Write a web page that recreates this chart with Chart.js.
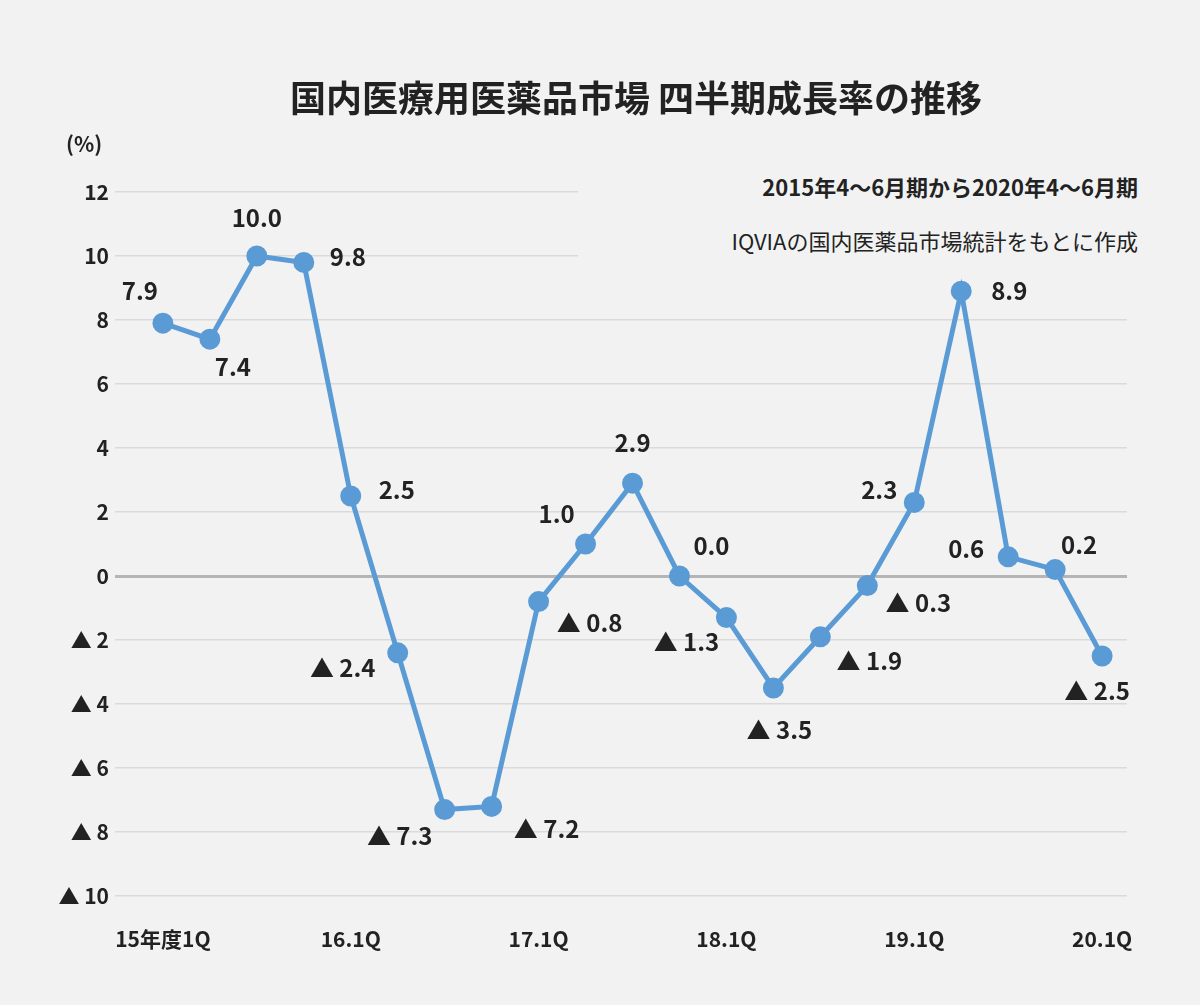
<!DOCTYPE html>
<html><head><meta charset="utf-8">
<script src="https://cdn.jsdelivr.net/npm/chart.js@4"></script>
<style>
body{margin:0;background:#f2f2f2;font-family:"Noto Sans CJK JP",sans-serif;color:#222}
#wrap{position:relative;width:1200px;height:1005px}
.t{position:absolute;white-space:nowrap}
</style></head><body>
<div id="wrap">
<canvas id="c" width="1200" height="1005"></canvas>
<div class="t" style="left:0;width:1272px;top:70px;text-align:center;font-size:36px;font-weight:bold">国内医療用医薬品市場 四半期成長率の推移</div>
<div class="t" style="left:66px;top:128px;font-size:21px;font-weight:bold">(%)</div>
<div class="t" style="left:578px;top:160px;width:572px;height:100px;background:#f2f2f2"></div>
<div class="t" style="right:62px;top:170px;font-size:22px;font-weight:bold">2015年4～6月期から2020年4～6月期</div>
<div class="t" style="right:62px;top:224px;font-size:22px">IQVIAの国内医薬品市場統計をもとに作成</div>
</div>
<script>
const growth = [7.9, 7.4, 10.0, 9.8, 2.5, -2.4, -7.3, -7.2, -0.8, 1.0, 2.9, 0.0, -1.3, -3.5, -1.9, -0.3, 2.3, 8.9, 0.6, 0.2, -2.5];
const xLabels = {0: '15年度1Q', 4: '16.1Q', 8: '17.1Q', 12: '18.1Q', 16: '19.1Q', 20: '20.1Q'};
// label offsets from each point (px)
const labelPos = [[-23,-32],[23,28],[0,-38],[44,-6],[46,-6],[-55,15],[-45,26],[55,22],[51,21],[-29,-30],[0,-40],[32,-30],[-40,24],[6,42],[49,24],[51,17],[-35,-13],[48,0],[-42,-8],[24,-25],[-5,35]];

const fmt = v => v < 0 ? '▲ ' + Math.abs(v).toFixed(1) : v.toFixed(1);
const font = 'bold 24px "Noto Sans CJK JP", sans-serif';

const labelPlugin = {
  id: 'vals',
  afterDatasetsDraw(chart) {
    const ctx = chart.ctx;
    ctx.save();
    ctx.font = font; ctx.fillStyle = '#222';
    ctx.textAlign = 'center'; ctx.textBaseline = 'middle';
    chart.getDatasetMeta(0).data.forEach((p, i) => {
      ctx.fillText(fmt(growth[i]), p.x + labelPos[i][0], p.y + labelPos[i][1]);
    });
    ctx.restore();
  }
};

new Chart(document.getElementById('c'), {
  type: 'line',
  data: {
    datasets: [{
      data: growth.map((v, i) => ({x: i, y: v})),
      borderColor: '#5b9bd5', backgroundColor: '#5b9bd5',
      borderWidth: 5, pointRadius: 8, pointHoverRadius: 8, tension: 0
    }]
  },
  options: {
    responsive: false, animation: false,
    layout: {padding: {top: 192, right: 73, left: 0, bottom: 0}},
    plugins: {legend: {display: false}, tooltip: {enabled: false}},
    scales: {
      x: {
        type: 'linear', min: -1.02, max: 20.53,
        afterFit: s => { s.height = 109; },
        afterBuildTicks: s => { s.ticks = [0, 4, 8, 12, 16, 20].map(v => ({value: v})); },
        grid: {display: false}, border: {display: false},
        ticks: {
          padding: 22, maxRotation: 0, autoSkip: false, color: '#222',
          font: {size: 21, weight: 'bold', family: '"Noto Sans CJK JP"'},
          callback: v => xLabels[v] || ''
        }
      },
      y: {
        min: -10, max: 12,
        afterFit: s => { s.width = 115; },
        border: {display: false},
        grid: {
          drawTicks: false,
          color: c => c.tick.value === 0 ? '#b5b5b5' : '#dadada',
          lineWidth: c => c.tick.value === 0 ? 3 : 1.5
        },
        ticks: {
          stepSize: 2, padding: 6, color: '#222',
          font: {size: 21, weight: 'bold', family: '"Noto Sans CJK JP"'},
          callback: v => v < 0 ? '▲ ' + Math.abs(v) : String(v)
        }
      }
    }
  },
  plugins: [labelPlugin]
});
</script>
</body></html>
